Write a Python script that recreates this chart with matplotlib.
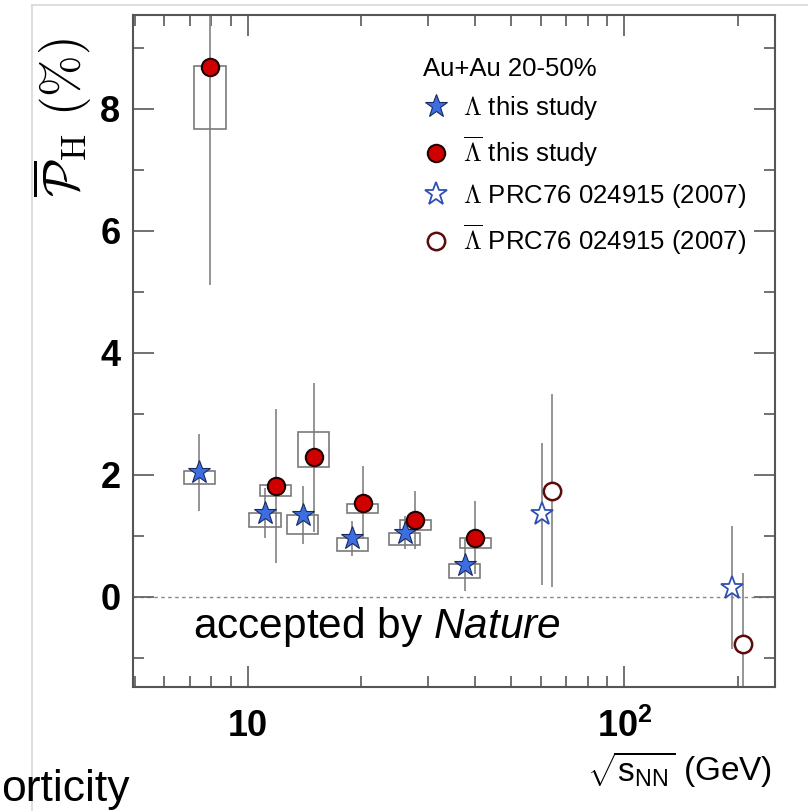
# Lambda / anti-Lambda global polarization vs collision energy
import matplotlib.pyplot as plt
from matplotlib.patches import Rectangle
from matplotlib.lines import Line2D

plt.rcParams['font.family'] = ['Liberation Sans', 'DejaVu Sans']
plt.rcParams['mathtext.fontset'] = 'custom'
plt.rcParams['mathtext.rm'] = 'Liberation Sans'
plt.rcParams['mathtext.it'] = 'Liberation Sans:italic'
plt.rcParams['mathtext.bf'] = 'Liberation Sans:bold'

# this study (BES energies)
energies = [7.7, 11.5, 14.5, 19.6, 27, 39]
lam = [2.04, 1.37, 1.34, 0.96, 1.05, 0.52]
lam_stat = [0.63, 0.41, 0.47, 0.29, 0.27, 0.42]
lam_sys_lo = [1.85, 1.15, 1.03, 0.75, 0.85, 0.31]
lam_sys_hi = [2.07, 1.38, 1.34, 0.97, 1.05, 0.54]

alam = [8.69, 1.82, 2.29, 1.54, 1.26, 0.97]
alam_stat = [3.58, 1.26, 1.22, 0.60, 0.48, 0.60]
alam_sys_lo = [7.67, 1.66, 2.13, 1.38, 1.10, 0.80]
alam_sys_hi = [8.70, 1.84, 2.70, 1.52, 1.26, 0.97]

# PRC76 024915 (2007)
prc_energies = [62.4, 200]
prc_lam = [1.36, 0.15]
prc_lam_stat = [1.16, 1.01]
prc_alam = [1.74, -0.77]
prc_alam_stat = [1.58, 1.16]

# small horizontal shifts so the two species don't overlap
shift_lam = 0.965
shift_alam = 1.03
box_half = 1.10

blue = '#3d6ee0'
red = '#d10000'
bar_col = '#8c8c8c'
box_col = '#7a7a7a'

fig = plt.figure(figsize=(8.08, 8.11), dpi=100)
ax = fig.add_axes([0.1646, 0.1529, 0.7945, 0.8286])

x_lam = [e * shift_lam for e in energies]
x_alam = [e * shift_alam for e in energies]
x_prc_lam = [e * shift_lam for e in prc_energies]
x_prc_alam = [e * shift_alam for e in prc_energies]

ax.axhline(0, color='#888888', lw=1.0, ls=(0, (2.5, 2.5)), zorder=1)

for xs, ys, es in [(x_lam, lam, lam_stat), (x_alam, alam, alam_stat),
                   (x_prc_lam, prc_lam, prc_lam_stat),
                   (x_prc_alam, prc_alam, prc_alam_stat)]:
    ax.errorbar(xs, ys, yerr=es, fmt='none', ecolor=bar_col,
                elinewidth=1.3, capsize=0, zorder=2)

for xs, los, his in [(x_lam, lam_sys_lo, lam_sys_hi),
                     (x_alam, alam_sys_lo, alam_sys_hi)]:
    for x, lo, hi in zip(xs, los, his):
        ax.add_patch(Rectangle((x / box_half, lo), x * box_half - x / box_half,
                               hi - lo, fill=False, ec=box_col, lw=1.2, zorder=3))

h1, = ax.plot(x_lam, lam, ls='none', marker='*', ms=17, mfc=blue,
              mec='#1a2a60', mew=0.8, zorder=5)
h2, = ax.plot(x_alam, alam, ls='none', marker='o', ms=12.5, mfc=red,
              mec='#200000', mew=1.5, zorder=5)
h3, = ax.plot(x_prc_lam, prc_lam, ls='none', marker='*', ms=17, mfc='white',
              mec='#2f4fb5', mew=1.3, zorder=5)
h4, = ax.plot(x_prc_alam, prc_alam, ls='none', marker='o', ms=12.5, mfc='white',
              mec='#5a0c0c', mew=1.8, zorder=5)

ax.set_xscale('log')
ax.set_xlim(4.95, 251)
ax.set_ylim(-1.48, 9.54)
ax.set_xticks([10, 100])
ax.set_xticklabels(['10', r'$\mathbf{10^2}$'])
ax.set_xticks([5, 6, 7, 8, 9, 20, 30, 40, 50, 60, 70, 80, 90, 200], minor=True)
ax.set_xticklabels([], minor=True)
ax.set_yticks([0, 2, 4, 6, 8])
ax.set_yticks([-1, 1, 3, 5, 7, 9], minor=True)

ax.tick_params(which='both', direction='in', top=True, right=True,
               color='#666666', width=1.3)
ax.tick_params(which='major', length=15)
ax.tick_params(which='minor', length=8)
ax.tick_params(axis='y', which='major', pad=9, labelsize=26)
ax.tick_params(axis='x', which='major', pad=16, labelsize=26)
for lab in ax.get_xticklabels() + ax.get_yticklabels():
    lab.set_fontweight('bold')
for sp in ax.spines.values():
    sp.set_color('#555555')
    sp.set_linewidth(1.5)

leg = ax.legend([h1, h2, h3, h4],
                [r'$\Lambda$ this study', r'$\overline{\Lambda}$ this study',
                 r'$\Lambda$ PRC76 024915 (2007)',
                 r'$\overline{\Lambda}$ PRC76 024915 (2007)'],
                loc='upper left', bbox_to_anchor=(0.4517, 0.9375),
                frameon=False, fontsize=18.5, title='Au+Au 20-50%',
                title_fontsize=18.5, alignment='left', handlelength=1.0,
                handletextpad=0.56, labelspacing=0.5, borderpad=0,
                borderaxespad=0)
for t in leg.get_texts():
    t.set_math_fontfamily('cm')

ax.text(0.0935, 0.0893, r'accepted by $\mathit{Nature}$', transform=ax.transAxes,
        fontsize=30.5, ha='left', va='center')

fig.text(62 / 808, 1 - 118 / 811, r'$\overline{\mathcal{P}}_{\mathrm{H}}\ (\%)$',
         rotation=90, ha='center', va='center', fontsize=36, math_fontfamily='cm')
fig.text(772 / 808, 1 - 770 / 811, r'$\sqrt{\mathrm{s}_{\mathrm{NN}}}$ (GeV)',
         ha='right', va='center', fontsize=24)
# slide title cut off by the crop; only its tail is visible
fig.text(1 / 808, 1 - 790 / 811, 'orticity', ha='left', va='center',
         fontsize=32)

# slide crop borders
fig.add_artist(Line2D([32 / 808, 32 / 808], [0, 1 - 5 / 811], color='#d8d8d8', lw=1.2))
fig.add_artist(Line2D([32 / 808, 1], [1 - 5 / 811, 1 - 5 / 811], color='#d8d8d8', lw=1.2))

fig.savefig('out.png', dpi=100)
